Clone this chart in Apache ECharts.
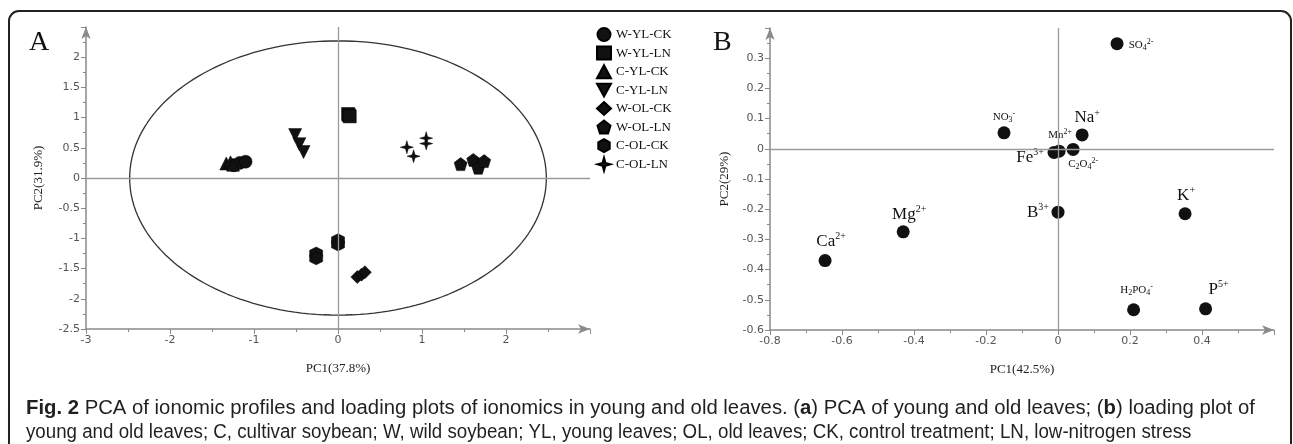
<!DOCTYPE html>
<html>
<head>
<meta charset="utf-8">
<title>PCA of ionomic profiles</title>
<script src="https://cdn.jsdelivr.net/npm/echarts@6/dist/echarts.min.js"></script>
<style>
html, body { margin: 0; padding: 0; background: #fff; }
#main { width: 1293px; height: 444px; }
</style>
</head>
<body>
<div id="main"></div>
<script>
// ---- panel A : PCA scores, [PC1, PC2] per sample ----
var groupNames = ['W-YL-CK', 'W-YL-LN', 'C-YL-CK', 'C-YL-LN', 'W-OL-CK', 'W-OL-LN', 'C-OL-CK', 'C-OL-LN'];
var wYlCk = [[-1.24, 0.21], [-1.17, 0.25], [-1.1, 0.27]];
var wYlLn = [[0.12, 1.06], [0.13, 1.04], [0.14, 1.02]];
var cYlCk = [[-1.33, 0.24], [-1.28, 0.26], [-1.25, 0.22]];
var cYlLn = [[-0.51, 0.71], [-0.46, 0.56], [-0.41, 0.43]];
var wOlCk = [[0.23, -1.64], [0.28, -1.6], [0.32, -1.56]];
var wOlLn = [[1.46, 0.23], [1.61, 0.3], [1.67, 0.17], [1.74, 0.28]];
var cOlCk = [[-0.26, -1.25], [-0.26, -1.33], [0.0, -1.03], [0.0, -1.1]];
var cOlLn = [[0.82, 0.51], [0.9, 0.36], [1.05, 0.66], [1.05, 0.57]];
var groupData = [wYlCk, wYlLn, cYlCk, cYlLn, wOlCk, wOlLn, cOlCk, cOlLn];

// confidence ellipse radii (PC1, PC2)
var ellipseRx = 2.48;
var ellipseRy = 2.27;

// ---- panel B : loadings ----
var ionLabels = ['Ca{u|2+}', 'Mg{u|2+}', 'B{u|3+}', 'K{u|+}', '{s|H}{sd|2}{s|PO}{sd|4}{su|-}', 'P{u|5+}',
                 '{s|SO}{sd|4}{su|2-}', '{s|NO}{sd|3}{su|-}', 'Na{u|+}', '{s|Mn}{su|2+}', 'Fe{u|3+}', '{s|C}{sd|2}{s|O}{sd|4}{su|2-}'];
var loadPC1 = [-0.647, -0.43, 0.0, 0.353, 0.21, 0.41, 0.164, -0.15, 0.067, 0.003, -0.011, 0.042];
var loadPC2 = [-0.37, -0.275, -0.21, -0.215, -0.533, -0.53, 0.348, 0.053, 0.046, -0.008, -0.012, -0.002];
// label offset from the dot, px
var labelOffset = [[6, -19], [6, -17], [-20, 0], [1, -18], [3, -20], [13, -19],
                   [24, 1], [0, -16], [5, -17], [1, -16], [-24, 5], [10, 15]];

var SERIF = '"Liberation Serif", "Times New Roman", serif';
var axisGray = '#8a8a8a';
var ink = '#111';

var symbols = ['circle', 'rect', 'triangle', 'path://M0,0L10,0L5,9Z', 'diamond',
  'path://M5,0L10,3.8L8.1,10L1.9,10L0,3.8Z',
  'path://M5,0L9.4,2.5L9.4,7.5L5,10L0.6,7.5L0.6,2.5Z',
  'path://M5,0L6.1,3.9L10,5L6.1,6.1L5,10L3.9,6.1L0,5L3.9,3.9Z'];

function hideMax(max) {
  return function (v) {
    return Math.abs(v - max) < 1e-9 ? '' : String(+v.toFixed(2));
  };
}

function valueAxis(gi, min, max, step, name, gap) {
  return {
    type: 'value', gridIndex: gi, min: min, max: max, interval: step,
    name: name, nameLocation: 'middle', nameGap: gap,
    nameTextStyle: { fontFamily: SERIF, fontSize: 13, color: '#222' },
    axisLine: { show: true, onZero: false, symbol: ['none', 'arrow'], symbolSize: [7, 12],
      lineStyle: { color: axisGray, width: 1.5 } },
    axisTick: { show: true, length: 5, lineStyle: { color: axisGray } },
    minorTick: { show: true, splitNumber: 2, length: 3, lineStyle: { color: axisGray } },
    axisLabel: { formatter: hideMax(max), color: '#555', fontSize: 11,
      fontFamily: '"DejaVu Sans", sans-serif', margin: 6 },
    splitLine: { show: false }
  };
}

var zeroLines = {
  silent: true, symbol: 'none', label: { show: false },
  lineStyle: { color: '#9a9a9a', width: 1.3, type: 'solid' },
  data: [{ xAxis: 0 }, { yAxis: 0 }]
};

var ellipsePts = [];
for (var k = 0; k <= 180; k++) {
  var t = k / 180 * 2 * Math.PI;
  ellipsePts.push([ellipseRx * Math.cos(t), ellipseRy * Math.sin(t)]);
}

var series = [{
  type: 'line', xAxisIndex: 0, yAxisIndex: 0, data: ellipsePts,
  showSymbol: false, silent: true, smooth: false,
  lineStyle: { color: '#333', width: 1.3 },
  markLine: zeroLines, z: 1
}];

groupNames.forEach(function (n, i) {
  series.push({
    name: n, type: 'scatter', xAxisIndex: 0, yAxisIndex: 0,
    data: groupData[i], symbol: symbols[i], symbolSize: 13,
    itemStyle: { color: ink, borderColor: '#000', borderWidth: 0.5, opacity: 1 },
    z: 3
  });
});

var loadData = loadPC1.map(function (x, i) {
  return { value: [x, loadPC2[i]], label: { offset: labelOffset[i] } };
});

series.push({
  type: 'scatter', xAxisIndex: 1, yAxisIndex: 1, data: loadData,
  symbol: 'circle', symbolSize: 13, itemStyle: { color: ink, opacity: 1 },
  markLine: zeroLines, z: 3,
  label: {
    show: true, position: 'inside', color: ink, fontFamily: SERIF, fontSize: 17, lineHeight: 20,
    formatter: function (p) { return ionLabels[p.dataIndex]; },
    rich: {
      u: { fontFamily: SERIF, fontSize: 10, lineHeight: 10, verticalAlign: 'top', color: ink },
      s: { fontFamily: SERIF, fontSize: 11, lineHeight: 14, color: ink },
      sd: { fontFamily: SERIF, fontSize: 8, lineHeight: 8, verticalAlign: 'bottom', color: ink },
      su: { fontFamily: SERIF, fontSize: 8, lineHeight: 8, verticalAlign: 'top', color: ink }
    }
  }
});

var captionFont = '"Liberation Sans", Arial, sans-serif';
var caption1 = '{b|Fig. 2} PCA of ionomic profiles and loading plots of ionomics in young and old leaves. ({b|a}) PCA of young and old leaves; ({b|b}) loading plot of';
var caption2 = 'young and old leaves; C, cultivar soybean; W, wild soybean; YL, young leaves; OL, old leaves; CK, control treatment; LN, low-nitrogen stress';

function captionLine(txt, y, sx) {
  return {
    type: 'text', x: 26, y: y, scaleX: sx, silent: true,
    style: {
      text: txt, fill: '#231f20', fontFamily: captionFont, fontSize: 20,
      verticalAlign: 'middle',
      rich: { b: { fontFamily: captionFont, fontSize: 20, fontWeight: 'bold', fill: '#231f20' } }
    }
  };
}

var chart = echarts.init(document.getElementById('main'));
chart.setOption({
  backgroundColor: '#fff',
  animation: false,
  grid: [
    { left: 86, top: 27, width: 504, height: 302 },
    { left: 770, top: 28, width: 504, height: 302 }
  ],
  xAxis: [
    valueAxis(0, -3, 3, 1, 'PC1(37.8%)', 33),
    valueAxis(1, -0.8, 0.6, 0.2, 'PC1(42.5%)', 33)
  ],
  yAxis: [
    valueAxis(0, -2.5, 2.5, 0.5, 'PC2(31.9%)', 41),
    valueAxis(1, -0.6, 0.4, 0.1, 'PC2(29%)', 39)
  ],
  legend: {
    orient: 'vertical', left: 591, top: 22,
    itemWidth: 14, itemHeight: 13, itemGap: 3.6,
    textStyle: { fontFamily: SERIF, fontSize: 13, color: ink },
    data: groupNames.map(function (n, i) { return { name: n, icon: symbols[i] }; })
  },
  graphic: [
    { type: 'rect', silent: true, z: -10,
      shape: { x: 9, y: 11, width: 1282, height: 470, r: 10 },
      style: { fill: 'none', stroke: '#222', lineWidth: 2 } },
    { type: 'text', x: 29, y: 43, silent: true,
      style: { text: 'A', fontFamily: SERIF, fontSize: 28, fill: ink, verticalAlign: 'middle' } },
    { type: 'text', x: 713, y: 43, silent: true,
      style: { text: 'B', fontFamily: SERIF, fontSize: 28, fill: ink, verticalAlign: 'middle' } },
    captionLine(caption1, 408, 1.015),
    captionLine(caption2, 432, 0.936)
  ],
  series: series
});
</script>
</body>
</html>
